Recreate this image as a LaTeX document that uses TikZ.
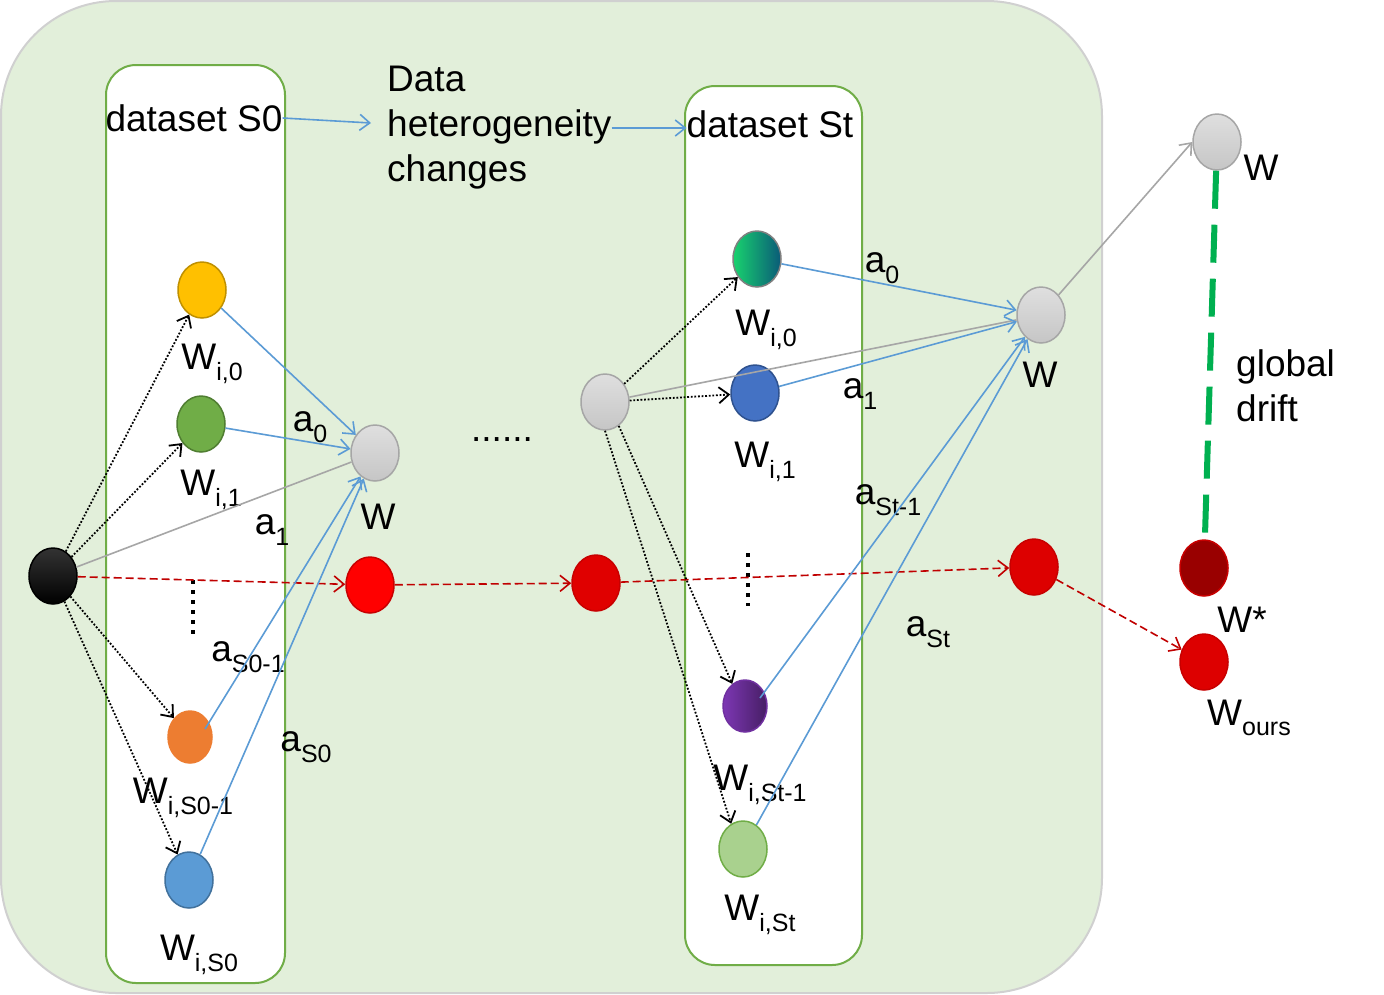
\documentclass[tikz,border=0pt]{standalone}
\usepackage{fontspec}
\setmainfont{Liberation Sans}
\usetikzlibrary{shapes.geometric,arrows.meta}
\definecolor{bgg}{HTML}{E2EFDA}
\definecolor{bgb}{HTML}{D0D0D0}
\definecolor{boxg}{HTML}{70AD47}
\definecolor{blu}{HTML}{5B9BD5}
\definecolor{gry}{HTML}{A6A6A6}
\definecolor{rdd}{HTML}{C00000}
\definecolor{grn}{HTML}{00B050}
\newcommand\sbs[1]{\raisebox{-0.28em}{\fontsize{25}{25}\selectfont #1}}
\begin{document}
\begin{tikzpicture}[x=1pt,y=-1pt,
  lbl/.style={inner sep=0pt, font=\fontsize{37}{45}\selectfont},
  nd/.style={ellipse, draw, line width=1.5pt, inner sep=0pt, minimum width=48pt, minimum height=56pt},
  grayn/.style={nd, draw=gry, top color=gray!25, bottom color=gray!45},
  dotarr/.style={line width=1.8pt, dash pattern=on 1.8pt off 1.8pt, -{Straight Barb[length=10pt,width=16pt]}},
  bluarr/.style={blu, line width=1.6pt, -{Straight Barb[length=10pt,width=16pt]}},
  grayln/.style={gry, line width=1.6pt},
  redarr/.style={rdd, line width=1.6pt, dash pattern=on 8pt off 4pt, -{Straight Barb[length=10pt,width=16pt]}},
  dsbox/.style={draw=boxg, line width=2pt, fill=white, rounded corners=30pt}
]
\useasboundingbox (0,0) rectangle (1384,994);
% background
\draw[draw=bgb, line width=2pt, fill=bgg, rounded corners=115pt] (1,1) rectangle (1102,993);
% dataset boxes
\draw[dsbox] (106,65) rectangle (285,983);
\draw[dsbox] (685,86) rectangle (862,965);

% nodes
\node[nd, draw=black, top color=black!80, bottom color=black] (blk) at (53,576) {};
\node[nd, fill={rgb,255:red,255;green,192;blue,0}, draw={rgb,255:red,191;green,144;blue,0}] (y0) at (202,290) {};
\node[nd, fill=boxg, draw={rgb,255:red,80;green,126;blue,50}] (g1) at (201,424) {};
\node[nd, fill={rgb,255:red,237;green,125;blue,49}, draw={rgb,255:red,237;green,125;blue,49}, minimum width=44pt, minimum height=52pt] (o1) at (190,737) {};
\node[nd, fill=blu, draw={rgb,255:red,65;green,113;blue,156}] (b1) at (189,880) {};
\node[grayn] (w1) at (375,453) {};
\node[nd, fill=red, draw={rgb,255:red,200;green,0;blue,0}] (r1) at (370,585) {};
\node[nd, fill={rgb,255:red,224;green,0;blue,0}, draw={rgb,255:red,200;green,0;blue,0}] (r2) at (596,583) {};
\node[grayn] (gm) at (605,402) {};
\node[nd, draw=gray, left color={rgb,255:red,24;green,210;blue,110}, right color={rgb,255:red,10;green,90;blue,120}] (t0) at (757,259) {};
\node[nd, fill={rgb,255:red,68;green,114;blue,196}, draw={rgb,255:red,47;green,82;blue,143}] (t1) at (755,393) {};
\node[nd, draw={rgb,255:red,112;green,48;blue,160}, left color={rgb,255:red,125;green,55;blue,180}, right color={rgb,255:red,70;green,30;blue,100}, minimum width=44pt, minimum height=52pt] (tp) at (745,706) {};
\node[nd, fill={rgb,255:red,169;green,209;blue,142}, draw=boxg] (tg) at (743,849) {};
\node[grayn] (w2) at (1041,315) {};
\node[nd, fill={rgb,255:red,221;green,0;blue,0}, draw={rgb,255:red,200;green,0;blue,0}] (r3) at (1034,567) {};
\node[grayn] (w3) at (1217,142) {};
\node[nd, fill={rgb,255:red,153;green,0;blue,0}, draw={rgb,255:red,200;green,0;blue,0}] (ws) at (1204,568) {};
\node[nd, fill={rgb,255:red,221;green,0;blue,0}, draw={rgb,255:red,200;green,0;blue,0}] (wo) at (1204,662) {};

% text nodes
\node[lbl] (ds0) at (194,118) {dataset S0};
\node[lbl, align=left, anchor=west] (dh) at (387,128) {Data\\heterogeneity\\changes};
\node[lbl] (dst) at (770,124) {dataset St};
\node[lbl] (dots) at (502,440) {......};
\node[lbl] (glob) [anchor=west, align=left] at (1236,386) {global\\drift};

\node[lbl] (lw10) at (212,364) {W\sbs{i,0}};
\node[lbl] (lw11) at (211,490) {W\sbs{i,1}};
\node[lbl] (la0) at (310,427) {a\sbs{0}};
\node[lbl] (lw1) at (378,517) {W};
\node[lbl] (la1) at (272,530) {a\sbs{1}};
\node[lbl] (las1) at (248,657) {a\sbs{S0-1}};
\node[lbl] (lws1) at (183,798) {W\sbs{i,S0-1}};
\node[lbl] (las) at (306,747) {a\sbs{S0}};
\node[lbl] (lws) at (199,955) {W\sbs{i,S0}};

\node[lbl] (lt0) at (882,268) {a\sbs{0}};
\node[lbl] (lwt0) at (766,330) {W\sbs{i,0}};
\node[lbl] (lt1) at (860,394) {a\sbs{1}};
\node[lbl] (lwt1) at (765,462) {W\sbs{i,1}};
\node[lbl] (lw2) at (1040,375) {W};
\node[lbl] (lts1) at (888,500) {a\sbs{St-1}};
\node[lbl] (lts) at (928,632) {a\sbs{St}};
\node[lbl] (lwts1) at (760,785) {W\sbs{i,St-1}};
\node[lbl] (lwts) at (760,915) {W\sbs{i,St}};
\node[lbl] (lw3) at (1261,168) {W};
\node[lbl] (lwstar) at (1242,620) {W*};
\node[lbl] (lwo) at (1249,718) {W\sbs{ours}};

% vertical dots
\draw[line width=4pt, dash pattern=on 4pt off 6pt] (193,580) -- (193,636);
\draw[line width=4pt, dash pattern=on 4pt off 6pt] (748,553) -- (748,606);

% top arrows
\draw[bluarr] (ds0.east) -- (371,123);
\draw[bluarr] (dh.east |- 0,128) -- (dst.west |- 0,128);

% left edges
\draw[dotarr] (blk) -- (y0);
\draw[dotarr] (blk) -- (g1);
\draw[dotarr] (blk) -- (o1);
\draw[dotarr] (blk) -- (b1);
\draw[grayln] (blk) -- (w1);
\draw[redarr] (blk) -- (r1);
\draw[bluarr] (y0) -- (w1);
\draw[bluarr] (g1) -- (w1);
\draw[bluarr] (o1.center) ++(15,-8) -- (w1);
\draw[bluarr] (b1) -- (w1);
\draw[redarr] (r1) -- (r2);
\draw[redarr] (r2) -- (r3);

% right edges
\draw[dotarr] (gm) -- (t0);
\draw[dotarr] (gm) -- (t1);
\draw[dotarr] (gm.-60) -- (tp.120);
\draw[dotarr] (gm.south) -- (tg.115);
\draw[grayln] (gm) -- (w2);
\draw[bluarr] (t0) -- (w2);
\draw[bluarr] (t1) -- (w2);
\draw[bluarr] (tp.center) ++(15,-8) -- (w2);
\draw[bluarr] (tg) -- (w2);
\draw[grayln, -{Straight Barb[length=10pt,width=16pt]}] (w2) -- (w3.west);
\draw[redarr] (r3) -- (wo);
\draw[grn, line width=6pt, dash pattern=on 38pt off 16pt] (w3) -- (ws);
\end{tikzpicture}
\end{document}
